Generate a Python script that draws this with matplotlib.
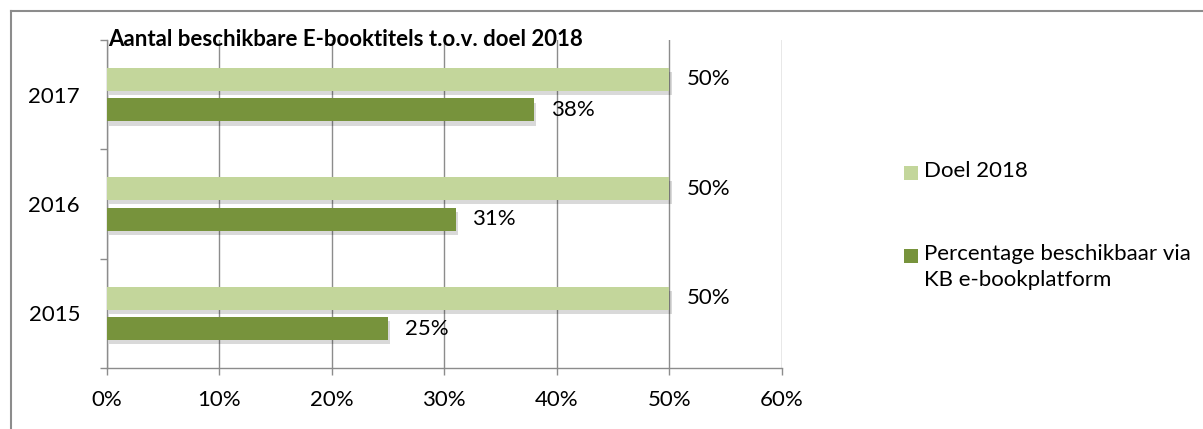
import numpy as np
import matplotlib.pyplot as plt
import matplotlib.patheffects as pe
from matplotlib.patches import Rectangle
from matplotlib.lines import Line2D

# ---------------------------------------------------------------------------
# Data
# ---------------------------------------------------------------------------
years = ["2015", "2016", "2017"]
doel_2018 = [50, 50, 50]
beschikbaar = [25, 31, 38]

series_labels = ["Doel 2018", "Percentage beschikbaar via\nKB e-bookplatform"]
title = "Aantal beschikbare E-booktitels t.o.v. doel 2018"
x_ticks = [0, 10, 20, 30, 40, 50, 60]

LIGHT = "#C3D69B"
DARK = "#77933C"
GRID = "#8C8C8C"
W, H = 1203, 429

plt.rcParams["font.family"] = ["Lato", "DejaVu Sans"]

fig = plt.figure(figsize=(W / 100, H / 100), dpi=100)
ax = fig.add_axes([106.5 / W, 1 - 368 / H, (782 - 106.5) / W, (368 - 40) / H])

y = np.arange(len(years))
bar_h = 0.21
offset = 0.14
shadow = [pe.SimplePatchShadow(offset=(1.5, -3), shadow_rgbFace="#000000", alpha=0.15),
          pe.Normal()]

b1 = ax.barh(y + offset, doel_2018, height=bar_h, color=LIGHT, zorder=3)
b2 = ax.barh(y - offset, beschikbaar, height=bar_h, color=DARK, zorder=3)
for bar in list(b1) + list(b2):
    bar.set_path_effects(shadow)

for bars, vals in ((b1, doel_2018), (b2, beschikbaar)):
    for bar, v in zip(bars, vals):
        ax.text(v + 1.5, bar.get_y() + bar.get_height() / 2, f"{v}%",
                va="center", ha="left", fontsize=16, color="black", zorder=4)

ax.set_xlim(0, 60)
ax.set_ylim(-0.5, len(years) - 0.5)
ax.set_xticks(x_ticks)
ax.set_xticklabels([f"{t}%" for t in x_ticks], fontsize=16)
ax.set_yticks(y)
ax.set_yticklabels(years, fontsize=16)
ax.set_yticks(np.arange(-0.5, len(years)), minor=True)
ax.tick_params(axis="y", which="major", length=0, pad=19)
ax.tick_params(axis="y", which="minor", length=5, color=GRID, width=1)
ax.tick_params(axis="x", length=5, color=GRID, width=1, pad=11)

ax.grid(axis="x", color=GRID, linewidth=1, zorder=0)
for side in ("top", "right"):
    ax.spines[side].set_visible(False)
for side in ("left", "bottom"):
    ax.spines[side].set_color(GRID)
    ax.spines[side].set_linewidth(1)

fig.text(108 / W, 1 - 39 / H, title, fontsize=16, fontweight="bold",
         ha="left", va="center")

# outer chart frame (only top and left edges fall inside the image)
fig.add_artist(Line2D([11 / W, 1], [1 - 11 / H] * 2, color=GRID, lw=1.5,
                      transform=fig.transFigure))
fig.add_artist(Line2D([11 / W] * 2, [0, 1 - 11 / H], color=GRID, lw=1.5,
                      transform=fig.transFigure))

# legend, drawn by hand to match the spacing
legend_rows = [173, 256]
for label, color, row in zip(series_labels, [LIGHT, DARK], legend_rows):
    fig.add_artist(Rectangle((904 / W, 1 - (row + 7) / H), 14 / W, 14 / H,
                             facecolor=color, edgecolor="none",
                             transform=fig.transFigure))
    fig.text(924 / W, 1 - (row - 12) / H, label, fontsize=16, ha="left",
             va="top", linespacing=1.35)

fig.savefig("out.png", dpi=100)
